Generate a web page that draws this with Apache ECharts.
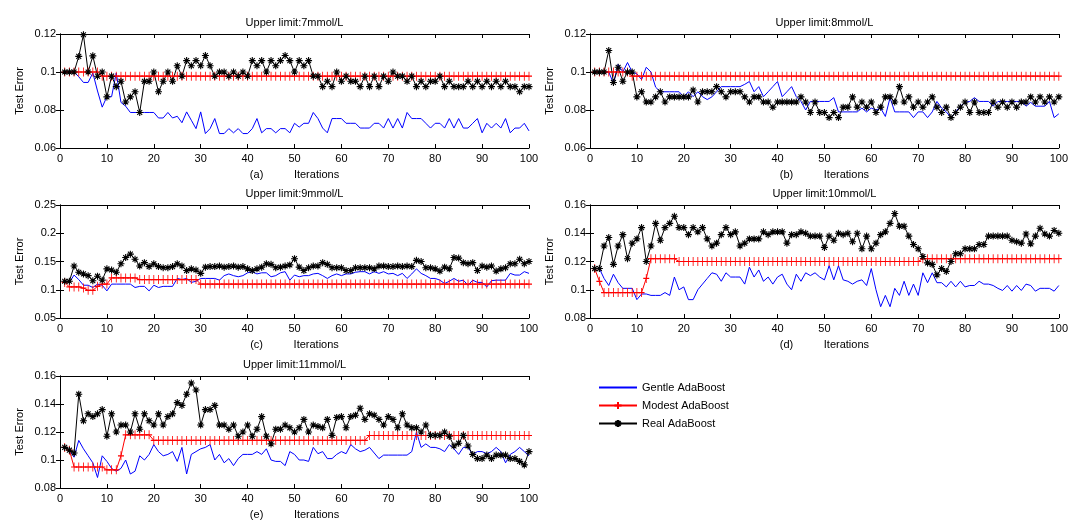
<!DOCTYPE html>
<html>
<head>
<meta charset="utf-8">
<script src="https://cdn.jsdelivr.net/npm/echarts@6/dist/echarts.min.js"></script>
<style>
  html, body { margin: 0; background: #fff; }
  #chart { width: 1071px; height: 521px; }
</style>
</head>
<body>
<div id="chart"></div>
<script>
// test error per iteration (1..100)
const aGentle = [0.1,0.1,0.1,0.0975,0.0945,0.0945,0.0995,0.09,0.0815,0.087,
  0.087,0.0995,0.084,0.082,0.0787,0.0787,0.0787,0.0787,0.0787,0.0787,
  0.0758,0.0758,0.0787,0.0758,0.0767,0.0733,0.079,0.0746,0.0702,0.079,
  0.0676,0.0702,0.0755,0.0676,0.0676,0.0702,0.068,0.0702,0.0676,0.0676,
  0.0702,0.0755,0.068,0.0702,0.0702,0.068,0.0702,0.0702,0.068,0.073,
  0.071,0.073,0.073,0.0787,0.0755,0.0705,0.068,0.0755,0.0755,0.0755,
  0.073,0.073,0.073,0.0705,0.0705,0.0705,0.073,0.073,0.0705,0.0755,
  0.0705,0.0755,0.0705,0.0787,0.0755,0.0755,0.0755,0.073,0.0705,0.073,
  0.073,0.0705,0.0755,0.0705,0.0755,0.0705,0.0705,0.073,0.0755,0.068,
  0.073,0.0705,0.073,0.0705,0.0755,0.068,0.0705,0.0705,0.073,0.069]
const aModest = [0.1,0.1,0.1,0.1,0.1,0.1,0.1,0.1,0.0978,0.0978,
  0.0978,0.0978,0.0978,0.0978,0.0978,0.0978,0.0978,0.0978,0.0978,0.0978,
  0.0978,0.0978,0.0978,0.0978,0.0978,0.0978,0.0978,0.0978,0.0978,0.0978,
  0.0978,0.0978,0.0978,0.0978,0.0978,0.0978,0.0978,0.0978,0.0978,0.0978,
  0.0978,0.0978,0.0978,0.0978,0.0978,0.0978,0.0978,0.0978,0.0978,0.0978,
  0.0978,0.0978,0.0978,0.0978,0.0978,0.0978,0.0978,0.0978,0.0978,0.0978,
  0.0978,0.0978,0.0978,0.0978,0.0978,0.0978,0.0978,0.0978,0.0978,0.0978,
  0.0978,0.0978,0.0978,0.0978,0.0978,0.0978,0.0978,0.0978,0.0978,0.0978,
  0.0978,0.0978,0.0978,0.0978,0.0978,0.0978,0.0978,0.0978,0.0978,0.0978,
  0.0978,0.0978,0.0978,0.0978,0.0978,0.0978,0.0978,0.0978,0.0978,0.0978]
const aReal = [0.1,0.1,0.1,0.1082,0.1196,0.1,0.1085,0.0978,0.1,0.0869,
  0.0978,0.0923,0.0951,0.0842,0.0869,0.0896,0.0787,0.0951,0.0951,0.1,
  0.0896,0.0951,0.1,0.0951,0.1033,0.0978,0.106,0.1033,0.106,0.1033,
  0.1087,0.1033,0.0978,0.1,0.1,0.0978,0.1,0.0978,0.1,0.0978,
  0.106,0.1033,0.106,0.1,0.106,0.1033,0.106,0.1087,0.106,0.1,
  0.106,0.1033,0.106,0.0978,0.0978,0.0923,0.0951,0.0923,0.1,0.0951,
  0.0978,0.0951,0.0951,0.0923,0.0978,0.0923,0.0978,0.0923,0.0978,0.0951,
  0.1,0.0978,0.0978,0.0951,0.0978,0.0923,0.0951,0.0923,0.0951,0.0951,
  0.0978,0.0923,0.0951,0.0923,0.0923,0.0923,0.0951,0.0923,0.0951,0.0923,
  0.0951,0.0923,0.0951,0.0923,0.0951,0.0923,0.0923,0.0896,0.0923,0.0923]

const bGentle = [0.1,0.1,0.1,0.1,0.094,0.104,0.1,0.105,0.1,0.099,
  0.096,0.1025,0.1,0.092,0.0896,0.0896,0.0896,0.0896,0.0896,0.087,
  0.0896,0.087,0.0896,0.087,0.0855,0.0869,0.0896,0.0923,0.0923,0.0923,
  0.0923,0.0923,0.0935,0.095,0.0896,0.0923,0.087,0.0896,0.0923,0.095,
  0.087,0.0896,0.0923,0.087,0.0845,0.08,0.0845,0.0845,0.0845,0.0845,
  0.0845,0.0865,0.079,0.079,0.079,0.079,0.079,0.081,0.079,0.081,
  0.08,0.081,0.0766,0.0865,0.079,0.079,0.079,0.079,0.076,0.079,
  0.079,0.076,0.079,0.0845,0.081,0.079,0.076,0.079,0.082,0.084,
  0.0845,0.0865,0.0845,0.0845,0.0845,0.082,0.0845,0.0845,0.0845,0.0845,
  0.0845,0.0845,0.082,0.084,0.082,0.082,0.082,0.0845,0.076,0.078]
const bModest = [0.1,0.1,0.1,0.1,0.1,0.1,0.1,0.1,0.0978,0.0978,
  0.0978,0.0978,0.0978,0.0978,0.0978,0.0978,0.0978,0.0978,0.0978,0.0978,
  0.0978,0.0978,0.0978,0.0978,0.0978,0.0978,0.0978,0.0978,0.0978,0.0978,
  0.0978,0.0978,0.0978,0.0978,0.0978,0.0978,0.0978,0.0978,0.0978,0.0978,
  0.0978,0.0978,0.0978,0.0978,0.0978,0.0978,0.0978,0.0978,0.0978,0.0978,
  0.0978,0.0978,0.0978,0.0978,0.0978,0.0978,0.0978,0.0978,0.0978,0.0978,
  0.0978,0.0978,0.0978,0.0978,0.0978,0.0978,0.0978,0.0978,0.0978,0.0978,
  0.0978,0.0978,0.0978,0.0978,0.0978,0.0978,0.0978,0.0978,0.0978,0.0978,
  0.0978,0.0978,0.0978,0.0978,0.0978,0.0978,0.0978,0.0978,0.0978,0.0978,
  0.0978,0.0978,0.0978,0.0978,0.0978,0.0978,0.0978,0.0978,0.0978,0.0978]
const bReal = [0.1,0.1,0.1,0.1113,0.0945,0.1025,0.0951,0.1,0.1,0.0869,
  0.0896,0.0842,0.0842,0.0869,0.0896,0.0842,0.0869,0.0869,0.0869,0.0869,
  0.0869,0.0905,0.0842,0.0896,0.0896,0.0896,0.0923,0.0896,0.0869,0.0896,
  0.0896,0.0896,0.0869,0.0842,0.0869,0.0869,0.0842,0.0842,0.0815,0.0842,
  0.0842,0.0842,0.0842,0.0842,0.0869,0.0842,0.0787,0.0842,0.0787,0.0787,
  0.076,0.0787,0.076,0.0815,0.0815,0.0869,0.0815,0.0842,0.0815,0.0842,
  0.0787,0.0815,0.0869,0.0869,0.0842,0.0923,0.0842,0.0869,0.0815,0.0842,
  0.0815,0.0842,0.0869,0.0815,0.0787,0.0815,0.076,0.0787,0.0815,0.0842,
  0.0787,0.0842,0.0787,0.0787,0.0787,0.0842,0.0815,0.0842,0.0815,0.0842,
  0.0815,0.0842,0.0842,0.0869,0.0842,0.0869,0.0842,0.0869,0.0842,0.0869]

const cGentle = [0.115,0.113,0.126,0.118,0.108,0.108,0.104,0.11,0.108,0.098,
  0.11,0.11,0.11,0.11,0.11,0.104,0.106,0.106,0.098,0.108,
  0.104,0.106,0.106,0.106,0.12,0.118,0.12,0.113,0.115,0.12,
  0.12,0.12,0.12,0.117,0.125,0.128,0.125,0.123,0.125,0.13,
  0.132,0.128,0.13,0.13,0.123,0.125,0.13,0.132,0.117,0.126,
  0.123,0.125,0.125,0.128,0.129,0.125,0.12,0.125,0.128,0.125,
  0.128,0.128,0.131,0.132,0.132,0.128,0.132,0.129,0.132,0.128,
  0.129,0.125,0.129,0.12,0.128,0.137,0.129,0.125,0.12,0.12,
  0.117,0.111,0.115,0.12,0.115,0.117,0.108,0.117,0.113,0.113,
  0.105,0.116,0.117,0.117,0.117,0.129,0.126,0.126,0.132,0.129]
const cModest = [0.113,0.105,0.105,0.105,0.103,0.099,0.099,0.106,0.11,0.11,
  0.121,0.121,0.121,0.121,0.121,0.121,0.118,0.118,0.118,0.118,
  0.118,0.118,0.118,0.118,0.118,0.118,0.118,0.118,0.118,0.11,
  0.11,0.11,0.11,0.11,0.11,0.11,0.11,0.11,0.11,0.11,
  0.11,0.11,0.11,0.11,0.11,0.11,0.11,0.11,0.11,0.11,
  0.11,0.11,0.11,0.11,0.11,0.11,0.11,0.11,0.11,0.11,
  0.11,0.11,0.11,0.11,0.11,0.11,0.11,0.11,0.11,0.11,
  0.11,0.11,0.11,0.11,0.11,0.11,0.11,0.11,0.11,0.11,
  0.11,0.11,0.11,0.11,0.11,0.11,0.11,0.11,0.11,0.11,
  0.11,0.11,0.11,0.11,0.11,0.11,0.11,0.11,0.11,0.11]
const cReal = [0.115,0.115,0.142,0.131,0.128,0.125,0.116,0.124,0.117,0.137,
  0.135,0.131,0.146,0.157,0.163,0.154,0.142,0.148,0.141,0.146,
  0.141,0.139,0.139,0.141,0.146,0.142,0.134,0.137,0.135,0.129,
  0.14,0.141,0.141,0.142,0.14,0.141,0.142,0.14,0.141,0.137,
  0.134,0.137,0.14,0.146,0.145,0.139,0.14,0.142,0.144,0.155,
  0.14,0.134,0.139,0.142,0.142,0.148,0.145,0.139,0.139,0.139,
  0.134,0.134,0.139,0.139,0.139,0.139,0.137,0.142,0.142,0.141,
  0.141,0.142,0.141,0.142,0.141,0.152,0.15,0.139,0.139,0.137,
  0.133,0.14,0.137,0.157,0.156,0.148,0.146,0.148,0.134,0.142,
  0.14,0.142,0.133,0.137,0.139,0.146,0.146,0.154,0.146,0.15]

const dGentle = [0.115,0.115,0.108,0.103,0.111,0.105,0.101,0.101,0.101,0.093,
  0.097,0.097,0.096,0.096,0.096,0.098,0.096,0.109,0.1,0.102,
  0.093,0.093,0.1,0.104,0.108,0.112,0.111,0.106,0.112,0.109,
  0.109,0.109,0.104,0.116,0.109,0.114,0.106,0.109,0.104,0.109,
  0.111,0.104,0.1,0.111,0.106,0.112,0.11,0.112,0.109,0.107,
  0.117,0.107,0.117,0.107,0.106,0.104,0.106,0.107,0.103,0.115,
  0.1,0.088,0.096,0.088,0.101,0.096,0.106,0.096,0.104,0.096,
  0.112,0.105,0.112,0.105,0.105,0.102,0.106,0.102,0.106,0.102,
  0.103,0.103,0.106,0.104,0.104,0.103,0.101,0.0995,0.103,0.099,
  0.103,0.0995,0.104,0.103,0.099,0.101,0.101,0.101,0.099,0.103]
const dModest = [0.115,0.106,0.098,0.098,0.098,0.098,0.098,0.098,0.098,0.098,
  0.098,0.108,0.122,0.122,0.122,0.122,0.122,0.122,0.12,0.12,
  0.12,0.12,0.12,0.12,0.12,0.12,0.12,0.12,0.12,0.12,
  0.12,0.12,0.12,0.12,0.12,0.12,0.12,0.12,0.12,0.12,
  0.12,0.12,0.12,0.12,0.12,0.12,0.12,0.12,0.12,0.12,
  0.12,0.12,0.12,0.12,0.12,0.12,0.12,0.12,0.12,0.12,
  0.12,0.12,0.12,0.12,0.12,0.12,0.12,0.12,0.12,0.12,
  0.122,0.122,0.122,0.122,0.122,0.122,0.122,0.122,0.122,0.122,
  0.122,0.122,0.122,0.122,0.122,0.122,0.122,0.122,0.122,0.122,
  0.122,0.122,0.122,0.122,0.122,0.122,0.122,0.122,0.122,0.122]
const dReal = [0.115,0.115,0.131,0.137,0.118,0.131,0.139,0.122,0.133,0.136,
  0.144,0.12,0.131,0.147,0.135,0.144,0.147,0.152,0.144,0.144,
  0.139,0.144,0.141,0.144,0.136,0.131,0.133,0.139,0.144,0.139,
  0.141,0.131,0.133,0.136,0.136,0.136,0.141,0.139,0.141,0.141,
  0.141,0.133,0.139,0.139,0.141,0.14,0.138,0.138,0.138,0.13,
  0.138,0.135,0.14,0.139,0.14,0.134,0.14,0.129,0.138,0.129,
  0.133,0.139,0.141,0.147,0.154,0.145,0.145,0.138,0.132,0.129,
  0.1235,0.119,0.118,0.1105,0.115,0.113,0.12,0.1255,0.1255,0.129,
  0.129,0.129,0.132,0.132,0.138,0.138,0.138,0.138,0.138,0.135,
  0.134,0.133,0.1395,0.1325,0.138,0.1435,0.1395,0.138,0.142,0.14]

const eGentle = [0.109,0.107,0.102,0.114,0.108,0.103,0.098,0.0875,0.103,0.099,
  0.094,0.092,0.094,0.1,0.09,0.092,0.103,0.1,0.104,0.111,
  0.106,0.103,0.104,0.106,0.099,0.109,0.09,0.104,0.106,0.108,
  0.109,0.111,0.1,0.104,0.098,0.101,0.096,0.101,0.104,0.104,
  0.104,0.106,0.104,0.108,0.1,0.099,0.099,0.096,0.106,0.104,
  0.1,0.1,0.099,0.109,0.1045,0.106,0.101,0.101,0.104,0.106,
  0.1045,0.111,0.108,0.106,0.107,0.109,0.105,0.101,0.1035,0.1035,
  0.1035,0.1035,0.1035,0.1035,0.106,0.12,0.109,0.1115,0.109,0.109,
  0.108,0.106,0.111,0.108,0.104,0.109,0.109,0.104,0.106,0.106,
  0.1045,0.106,0.109,0.106,0.098,0.104,0.106,0.109,0.106,0.103]
const eModest = [0.109,0.107,0.095,0.095,0.095,0.095,0.095,0.095,0.095,0.093,
  0.093,0.093,0.103,0.118,0.118,0.118,0.118,0.118,0.118,0.114,
  0.114,0.114,0.114,0.114,0.114,0.114,0.114,0.114,0.114,0.114,
  0.114,0.114,0.114,0.114,0.114,0.114,0.114,0.114,0.114,0.114,
  0.114,0.114,0.114,0.114,0.114,0.114,0.114,0.114,0.114,0.114,
  0.114,0.114,0.114,0.114,0.114,0.114,0.114,0.114,0.114,0.114,
  0.114,0.114,0.114,0.114,0.114,0.1175,0.1175,0.1175,0.1175,0.1175,
  0.1175,0.1175,0.1175,0.1175,0.1175,0.1175,0.1175,0.1175,0.1175,0.1175,
  0.1175,0.1175,0.1175,0.1175,0.1175,0.1175,0.1175,0.1175,0.1175,0.1175,
  0.1175,0.1175,0.1175,0.1175,0.1175,0.1175,0.1175,0.1175,0.1175,0.1175]
const eReal = [0.109,0.107,0.105,0.147,0.128,0.133,0.131,0.133,0.136,0.117,
  0.133,0.12,0.125,0.125,0.12,0.133,0.122,0.133,0.128,0.125,
  0.133,0.125,0.131,0.133,0.141,0.139,0.147,0.155,0.15,0.125,
  0.136,0.136,0.139,0.125,0.125,0.122,0.125,0.117,0.12,0.125,
  0.117,0.122,0.131,0.117,0.1115,0.122,0.122,0.125,0.123,0.12,
  0.123,0.129,0.12,0.125,0.124,0.123,0.129,0.1176,0.1304,0.131,
  0.123,0.131,0.132,0.137,0.129,0.133,0.132,0.129,0.125,0.131,
  0.129,0.123,0.133,0.125,0.123,0.123,0.12,0.125,0.1176,0.1176,
  0.1176,0.12,0.117,0.11,0.112,0.1176,0.11,0.104,0.101,0.101,
  0.1035,0.101,0.1035,0.1035,0.1035,0.101,0.101,0.099,0.0965,0.106]

const seriesNames = ['Gentle AdaBoost', 'Modest AdaBoost', 'Real AdaBoost']
const panelTitles = ['Upper limit:7mmol/L', 'Upper limit:8mmol/L', 'Upper limit:9mmol/L',
  'Upper limit:10mmol/L', 'Upper limit:11mmol/L']
const panelLabels = ['(a)', '(b)', '(c)', '(d)', '(e)']

const FONT = 'Liberation Sans, Arial, sans-serif'
const PLUS = 'path://M5,0V10M0,5H10'
const STAR = 'path://M5,0V10M0,5H10M1.5,1.5L8.5,8.5M8.5,1.5L1.5,8.5'

const panels = [
  { box: { left: 60, top: 34, width: 469, height: 114 }, y: [0.06, 0.12, 0.02], data: [aGentle, aModest, aReal] },
  { box: { left: 590, top: 34, width: 469, height: 114 }, y: [0.06, 0.12, 0.02], data: [bGentle, bModest, bReal] },
  { box: { left: 60, top: 205, width: 469, height: 113 }, y: [0.05, 0.25, 0.05], data: [cGentle, cModest, cReal] },
  { box: { left: 590, top: 205, width: 469, height: 113 }, y: [0.08, 0.16, 0.02], data: [dGentle, dModest, dReal] },
  { box: { left: 60, top: 376, width: 469, height: 113 }, y: [0.08, 0.16, 0.02], data: [eGentle, eModest, eReal] }
]

const txt = { color: '#000', fontSize: 11, fontFamily: FONT }
const tick = { inside: true, length: 4, lineStyle: { color: '#000' } }
const line = { show: true, lineStyle: { color: '#000', width: 1 } }

const grid = [], xAxis = [], yAxis = [], series = []

panels.forEach((p, i) => {
  grid.push(p.box)
  xAxis.push({
    gridIndex: i, type: 'value', min: 0, max: 100, interval: 10, position: 'bottom',
    axisLine: line, axisTick: tick, splitLine: { show: false },
    axisLabel: { ...txt, margin: 5 },
    name: panelLabels[i] + '          Iterations', nameLocation: 'middle', nameGap: 21,
    nameTextStyle: txt
  })
  xAxis.push({
    gridIndex: i, type: 'value', min: 0, max: 100, interval: 10, position: 'top',
    axisLine: line, axisTick: tick, splitLine: { show: false },
    axisLabel: { show: false },
    name: panelTitles[i], nameLocation: 'middle', nameGap: 6, nameTextStyle: txt
  })
  yAxis.push({
    gridIndex: i, type: 'value', min: p.y[0], max: p.y[1], interval: p.y[2], position: 'left',
    axisLine: line, axisTick: tick, splitLine: { show: false },
    axisLabel: { ...txt, margin: 4 },
    name: 'Test Error', nameLocation: 'middle', nameRotate: 90, nameGap: 35, nameTextStyle: txt
  })
  yAxis.push({
    gridIndex: i, type: 'value', min: p.y[0], max: p.y[1], interval: p.y[2], position: 'right',
    axisLine: line, axisTick: tick, splitLine: { show: false }, axisLabel: { show: false }
  })

  const pts = vals => vals.map((v, k) => [k + 1, v])
  const base = { type: 'line', xAxisIndex: 2 * i, yAxisIndex: 2 * i, showAllSymbol: true, animation: false }

  series.push({ ...base, name: seriesNames[0], data: pts(p.data[0]), symbol: 'none',
    lineStyle: { color: '#0000ff', width: 1 }, itemStyle: { color: '#0000ff' } })
  series.push({ ...base, name: seriesNames[1], data: pts(p.data[1]), symbol: PLUS, symbolSize: [6, 9],
    lineStyle: { color: '#ff0000', width: 1 },
    itemStyle: { color: '#ff0000', borderColor: '#ff0000', borderWidth: 1 } })
  series.push({ ...base, name: seriesNames[2], data: pts(p.data[2]), symbol: STAR, symbolSize: 7,
    lineStyle: { color: '#000', width: 1 },
    itemStyle: { color: '#000', borderColor: '#000', borderWidth: 1.1 } })
})

const chart = echarts.init(document.getElementById('chart'))
chart.setOption({
  backgroundColor: '#fff',
  animation: false,
  legend: {
    data: [
      { name: seriesNames[0], itemStyle: { opacity: 0 } },
      { name: seriesNames[1] },
      { name: seriesNames[2] }
    ],
    orient: 'vertical', left: 593, top: 377,
    itemWidth: 38, itemHeight: 9, itemGap: 7, textStyle: txt
  },
  grid, xAxis, yAxis, series
})
</script>
</body>
</html>
